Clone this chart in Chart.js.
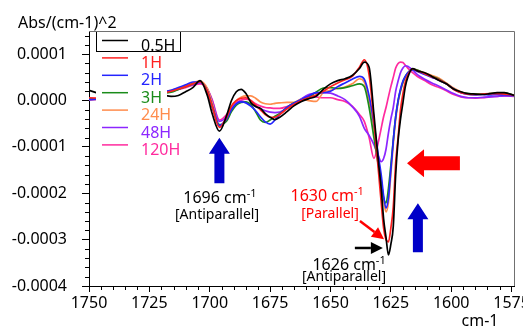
<!DOCTYPE html>
<html>
<head>
<meta charset="utf-8">
<script src="https://cdn.jsdelivr.net/npm/chart.js@4.4.1/dist/chart.umd.min.js"></script>
<style>
  html, body { margin: 0; padding: 0; background: #fff; }
  canvas { display: block; }
</style>
</head>
<body>
<canvas id="chart" width="523" height="327"></canvas>
<script>
// wavenumber grid (cm-1), shared by every spectrum
const WAVENUMBERS = [1750, 1745, 1740, 1735, 1730, 1725, 1720, 1716, 1713, 1710, 1707, 1704, 1701, 1699, 1696,
    1693, 1691, 1689, 1687, 1685, 1683, 1681, 1679, 1677, 1675, 1673, 1671,
    1668, 1665, 1662, 1659, 1656, 1653, 1650, 1647, 1644, 1641, 1638, 1636, 1634, 1632, 1630,
    1629, 1628, 1627, 1626, 1625, 1624, 1623, 1622, 1621, 1620, 1619, 1618,
    1616, 1614, 1611, 1608, 1605, 1602, 1599, 1596, 1593, 1590, 1587, 1584, 1581, 1578, 1574];

const SERIES_LABELS = ["0.5H", "1H", "2H", "3H", "24H", "48H", "120H"];
const SERIES_COLORS = ["#000000", "#ff2020", "#2424ff", "#1a8c1a", "#ff8c4c", "#8c26ff", "#ff2a9e"];

// second-derivative absorbance, Abs/(cm-1)^2
const ABS_05H = [0.22e-4, 0.14e-4, 0.08e-4, 0.05e-4, 0.05e-4, 0.06e-4, 0.12e-4, 0.09e-4, 0.11e-4, 0.19e-4, 0.28e-4, 0.43e-4, 0.11e-4, -0.28e-4, -0.66e-4,
    -0.32e-4, 0.0, 0.19e-4, 0.24e-4, 0.15e-4, -0.04e-4, -0.13e-4, -0.17e-4, -0.28e-4, -0.36e-4, -0.41e-4, -0.36e-4,
    -0.24e-4, -0.11e-4, -0.02e-4, 0.04e-4, 0.09e-4, 0.24e-4, 0.36e-4, 0.43e-4, 0.47e-4, 0.54e-4, 0.69e-4, 0.83e-4, 0.72e-4, -0.3e-4, -1.4e-4,
    -1.9e-4, -2.55e-4, -2.95e-4, -3.33e-4, -3.1e-4, -2.72e-4, -1.6e-4, -0.86e-4, -0.4e-4, -0.05e-4, 0.3e-4, 0.5e-4,
    0.69e-4, 0.64e-4, 0.6e-4, 0.52e-4, 0.43e-4, 0.36e-4, 0.25e-4, 0.19e-4, 0.15e-4, 0.14e-4, 0.13e-4, 0.15e-4, 0.17e-4, 0.17e-4, 0.11e-4];

const ABS_1H = [0.06e-4, 0.05e-4, 0.04e-4, 0.05e-4, 0.07e-4, 0.1e-4, 0.15e-4, 0.2e-4, 0.25e-4, 0.3e-4, 0.36e-4, 0.4e-4, 0.2e-4, -0.12e-4, -0.58e-4,
    -0.36e-4, -0.12e-4, 0.0, 0.05e-4, 0.06e-4, 0.0, -0.1e-4, -0.2e-4, -0.3e-4, -0.36e-4, -0.36e-4, -0.3e-4,
    -0.18e-4, -0.08e-4, 0.0, 0.06e-4, 0.12e-4, 0.2e-4, 0.3e-4, 0.38e-4, 0.45e-4, 0.52e-4, 0.72e-4, 0.88e-4, 0.55e-4, -0.45e-4, -1.6e-4,
    -2.2e-4, -2.75e-4, -3.0e-4, -3.05e-4, -2.75e-4, -2.3e-4, -1.35e-4, -0.8e-4, -0.2e-4, 0.15e-4, 0.4e-4, 0.55e-4,
    0.68e-4, 0.64e-4, 0.58e-4, 0.51e-4, 0.45e-4, 0.36e-4, 0.24e-4, 0.17e-4, 0.14e-4, 0.13e-4, 0.14e-4, 0.15e-4, 0.15e-4, 0.14e-4, 0.12e-4];

const ABS_2H = [0.02e-4, 0.04e-4, 0.06e-4, 0.08e-4, 0.1e-4, 0.13e-4, 0.18e-4, 0.22e-4, 0.28e-4, 0.34e-4, 0.4e-4, 0.4e-4, 0.2e-4, -0.12e-4, -0.54e-4,
    -0.4e-4, -0.2e-4, -0.07e-4, -0.03e-4, -0.05e-4, -0.12e-4, -0.22e-4, -0.35e-4, -0.46e-4, -0.51e-4, -0.42e-4, -0.3e-4,
    -0.15e-4, -0.05e-4, 0.03e-4, 0.1e-4, 0.17e-4, 0.17e-4, 0.2e-4, 0.3e-4, 0.38e-4, 0.46e-4, 0.52e-4, 0.46e-4, 0.1e-4, -0.5e-4, -1.25e-4,
    -1.6e-4, -2.05e-4, -2.32e-4, -2.1e-4, -1.5e-4, -0.86e-4, -0.35e-4, 0.0, 0.25e-4, 0.42e-4, 0.52e-4, 0.6e-4,
    0.66e-4, 0.63e-4, 0.56e-4, 0.5e-4, 0.44e-4, 0.36e-4, 0.25e-4, 0.17e-4, 0.13e-4, 0.12e-4, 0.13e-4, 0.12e-4, 0.13e-4, 0.12e-4, 0.11e-4];

const ABS_3H = [0.03e-4, 0.04e-4, 0.05e-4, 0.07e-4, 0.09e-4, 0.12e-4, 0.15e-4, 0.18e-4, 0.24e-4, 0.3e-4, 0.36e-4, 0.4e-4, 0.2e-4, -0.12e-4, -0.52e-4,
    -0.44e-4, -0.24e-4, -0.1e-4, -0.04e-4, -0.03e-4, -0.09e-4, -0.24e-4, -0.42e-4, -0.47e-4, -0.42e-4, -0.34e-4, -0.28e-4,
    -0.15e-4, -0.05e-4, 0.01e-4, 0.07e-4, 0.18e-4, 0.27e-4, 0.28e-4, 0.26e-4, 0.28e-4, 0.32e-4, 0.36e-4, 0.3e-4, -0.15e-4, -0.8e-4, -1.45e-4,
    -1.75e-4, -2.1e-4, -2.21e-4, -1.9e-4, -1.4e-4, -0.86e-4, -0.35e-4, 0.0, 0.22e-4, 0.4e-4, 0.52e-4, 0.6e-4,
    0.68e-4, 0.66e-4, 0.58e-4, 0.52e-4, 0.46e-4, 0.36e-4, 0.25e-4, 0.18e-4, 0.15e-4, 0.14e-4, 0.14e-4, 0.15e-4, 0.16e-4, 0.16e-4, 0.12e-4];

const ABS_24H = [0.02e-4, 0.03e-4, 0.05e-4, 0.08e-4, 0.11e-4, 0.14e-4, 0.18e-4, 0.22e-4, 0.27e-4, 0.32e-4, 0.38e-4, 0.42e-4, 0.26e-4, -0.05e-4, -0.56e-4,
    -0.36e-4, -0.12e-4, 0.0, 0.07e-4, 0.1e-4, 0.1e-4, 0.05e-4, -0.03e-4, -0.07e-4, -0.08e-4, -0.06e-4, -0.05e-4,
    -0.04e-4, -0.04e-4, 0.03e-4, 0.0, -0.02e-4, 0.17e-4, 0.22e-4, 0.26e-4, 0.29e-4, 0.36e-4, 0.47e-4, 0.4e-4, 0.0, -0.6e-4, -1.35e-4,
    -1.7e-4, -2.15e-4, -2.4e-4, -2.2e-4, -1.6e-4, -0.95e-4, -0.42e-4, -0.05e-4, 0.2e-4, 0.38e-4, 0.5e-4, 0.58e-4,
    0.66e-4, 0.65e-4, 0.6e-4, 0.54e-4, 0.48e-4, 0.38e-4, 0.27e-4, 0.19e-4, 0.14e-4, 0.13e-4, 0.14e-4, 0.14e-4, 0.14e-4, 0.13e-4, 0.11e-4];

const ABS_48H = [0.01e-4, 0.03e-4, 0.05e-4, 0.08e-4, 0.1e-4, 0.13e-4, 0.17e-4, 0.2e-4, 0.25e-4, 0.3e-4, 0.34e-4, 0.38e-4, 0.25e-4, 0.0, -0.45e-4,
    -0.35e-4, -0.18e-4, -0.06e-4, -0.02e-4, -0.04e-4, -0.08e-4, -0.13e-4, -0.18e-4, -0.22e-4, -0.25e-4, -0.26e-4, -0.25e-4,
    -0.17e-4, -0.07e-4, 0.04e-4, 0.13e-4, 0.16e-4, 0.17e-4, 0.16e-4, 0.1e-4, 0.02e-4, -0.13e-4, -0.34e-4, -0.6e-4, -0.75e-4, -0.95e-4, -1.22e-4,
    -1.32e-4, -1.25e-4, -1.05e-4, -0.7e-4, -0.4e-4, -0.15e-4, 0.2e-4, 0.42e-4, 0.6e-4, 0.7e-4, 0.75e-4, 0.74e-4,
    0.66e-4, 0.56e-4, 0.46e-4, 0.38e-4, 0.31e-4, 0.23e-4, 0.15e-4, 0.09e-4, 0.06e-4, 0.06e-4, 0.07e-4, 0.08e-4, 0.09e-4, 0.1e-4, 0.1e-4];

const ABS_120H = [0.04e-4, 0.05e-4, 0.07e-4, 0.09e-4, 0.11e-4, 0.13e-4, 0.17e-4, 0.2e-4, 0.24e-4, 0.28e-4, 0.33e-4, 0.36e-4, 0.25e-4, 0.02e-4, -0.42e-4,
    -0.3e-4, -0.14e-4, -0.04e-4, 0.01e-4, 0.03e-4, 0.0, -0.07e-4, -0.12e-4, -0.15e-4, -0.16e-4, -0.17e-4, -0.17e-4,
    -0.13e-4, -0.06e-4, 0.02e-4, 0.1e-4, 0.08e-4, 0.06e-4, 0.06e-4, 0.02e-4, -0.02e-4, -0.12e-4, -0.3e-4, -0.45e-4, -0.8e-4, -1.25e-4, -0.85e-4,
    -0.6e-4, -0.35e-4, -0.15e-4, 0.08e-4, 0.3e-4, 0.5e-4, 0.7e-4, 0.8e-4, 0.83e-4, 0.82e-4, 0.76e-4, 0.7e-4,
    0.6e-4, 0.52e-4, 0.43e-4, 0.34e-4, 0.28e-4, 0.21e-4, 0.13e-4, 0.08e-4, 0.06e-4, 0.05e-4, 0.06e-4, 0.08e-4, 0.09e-4, 0.1e-4, 0.09e-4];

const SERIES_VALUES = [ABS_05H, ABS_1H, ABS_2H, ABS_3H, ABS_24H, ABS_48H, ABS_120H];

// axis ranges and ticks
const X_MIN = 1574, X_MAX = 1750, X_STEP = 25, X_MINOR = 5;
const Y_MIN = -0.0004, Y_MAX = 0.00015, Y_STEP = 0.0001, Y_MINOR = 0.00002;

// annotations, placed in data units: [wavenumber, absorbance]
const UP_ARROWS = [
    { at: 1696.0, tip: -0.80e-4, base: -1.785e-4 },
    { at: 1613.8, tip: -2.215e-4, base: -3.27e-4 },
];
const LEFT_ARROW = { tip: [1618.3, -1.355e-4], tail: 1596.4 };
const LINE_ARROWS = [
    { from: [1637.8, -2.60e-4], to: [1627.8, -2.99e-4], color: "#ff0000" },
    { from: [1639.9, -3.18e-4], to: [1628.3, -3.18e-4], color: "#000000" },
];
const NOTES = [
    { at: [1695.8, -2.215e-4], text: "1696 cm", sup: "-1", color: "#000000", size: 16 },
    { at: [1697.0, -2.56e-4], text: "[Antiparallel]", color: "#000000", size: 14 },
    { at: [1651.4, -2.17e-4], text: "1630 cm", sup: "-1", color: "#ff0000", size: 16 },
    { at: [1650.2, -2.54e-4], text: "[Parallel]", color: "#ff0000", size: 14 },
    { at: [1642.3, -3.66e-4], text: "1626 cm", sup: "-1", color: "#000000", size: 16 },
    { at: [1644.4, -3.89e-4], text: "[Antiparallel]", color: "#000000", size: 14 },
];

const FONT = '"Noto Sans", "DejaVu Sans", sans-serif';

function toPoints(values) {
    return WAVENUMBERS.map((w, i) => ({ x: w, y: values[i] }));
}

function px(chart, w, v) {
    return [chart.scales.x.getPixelForValue(w), chart.scales.y.getPixelForValue(v)];
}

const frameAndTicks = {
    id: "frameAndTicks",
    afterDraw(chart) {
        const { ctx, scales: { x, y } } = chart;
        ctx.save();
        ctx.strokeStyle = "#000";
        ctx.lineWidth = 1;
        ctx.beginPath();
        for (let w = 1575; w <= X_MAX; w += X_MINOR) {
            if (w % X_STEP === 0) continue;
            const p = Math.round(x.getPixelForValue(w)) + 0.5;
            ctx.moveTo(p, y.bottom);
            ctx.lineTo(p, y.bottom + 4);
        }
        for (let k = -20; k * Y_MINOR <= Y_MAX + 1e-12; k++) {
            if (k % 5 === 0) continue;
            const p = Math.round(y.getPixelForValue(k * Y_MINOR)) + 0.5;
            ctx.moveTo(x.left - 4, p);
            ctx.lineTo(x.left, p);
        }
        ctx.stroke();

        ctx.strokeStyle = "#707070";
        ctx.beginPath();
        ctx.moveTo(x.left, y.top + 0.5);
        ctx.lineTo(x.right + 0.5, y.top + 0.5);
        ctx.lineTo(x.right + 0.5, y.bottom);
        ctx.stroke();

        ctx.fillStyle = "#000";
        ctx.font = "16px " + FONT;
        ctx.textAlign = "left";
        ctx.textBaseline = "alphabetic";
        ctx.fillText("Abs/(cm-1)^2", 18, 28);
        ctx.textAlign = "center";
        ctx.fillText("cm-1", 480, 326);
        ctx.restore();
    },
};

const legendBox = {
    id: "legendBox",
    afterDatasetsDraw(chart) {
        const ctx = chart.ctx;
        ctx.save();
        ctx.fillStyle = "#fff";
        ctx.fillRect(96, 32, 71, 126);
        ctx.font = "16px " + FONT;
        ctx.textAlign = "left";
        ctx.textBaseline = "alphabetic";
        SERIES_LABELS.forEach((label, i) => {
            const ly = 40.5 + i * 17.4;
            ctx.strokeStyle = SERIES_COLORS[i];
            ctx.lineWidth = 1.5;
            ctx.beginPath();
            ctx.moveTo(102, ly);
            ctx.lineTo(128, ly);
            ctx.stroke();
            ctx.fillStyle = SERIES_COLORS[i];
            ctx.fillText(label, 141, ly + 10);
        });
        ctx.strokeStyle = "#000";
        ctx.lineWidth = 1;
        ctx.strokeRect(96.5, 31.5, 84, 20);
        ctx.restore();
    },
};

const annotations = {
    id: "annotations",
    afterDraw(chart) {
        const ctx = chart.ctx;
        ctx.save();

        // block arrows pointing up
        ctx.fillStyle = "#0000c8";
        UP_ARROWS.forEach((a) => {
            const [cx, tipY] = px(chart, a.at, a.tip);
            const [, baseY] = px(chart, a.at, a.base);
            const headY = tipY + 16;
            ctx.beginPath();
            ctx.moveTo(cx, tipY);
            ctx.lineTo(cx + 10.5, headY);
            ctx.lineTo(cx + 5, headY);
            ctx.lineTo(cx + 5, baseY);
            ctx.lineTo(cx - 5, baseY);
            ctx.lineTo(cx - 5, headY);
            ctx.lineTo(cx - 10.5, headY);
            ctx.closePath();
            ctx.fill();
        });

        // red block arrow pointing left
        {
            const [tx, ty] = px(chart, LEFT_ARROW.tip[0], LEFT_ARROW.tip[1]);
            const [ex] = px(chart, LEFT_ARROW.tail, LEFT_ARROW.tip[1]);
            const hx = tx + 17;
            ctx.fillStyle = "#ff0000";
            ctx.beginPath();
            ctx.moveTo(tx, ty);
            ctx.lineTo(hx, ty - 14);
            ctx.lineTo(hx, ty - 7);
            ctx.lineTo(ex, ty - 7);
            ctx.lineTo(ex, ty + 7);
            ctx.lineTo(hx, ty + 7);
            ctx.lineTo(hx, ty + 14);
            ctx.closePath();
            ctx.fill();
        }

        // thin arrows
        LINE_ARROWS.forEach((a) => {
            const [x1, y1] = px(chart, a.from[0], a.from[1]);
            const [x2, y2] = px(chart, a.to[0], a.to[1]);
            const ang = Math.atan2(y2 - y1, x2 - x1);
            const hl = 12, hw = 6;
            const bx = x2 - hl * Math.cos(ang), by = y2 - hl * Math.sin(ang);
            ctx.strokeStyle = a.color;
            ctx.fillStyle = a.color;
            ctx.lineWidth = 2.5;
            ctx.beginPath();
            ctx.moveTo(x1, y1);
            ctx.lineTo(bx, by);
            ctx.stroke();
            ctx.beginPath();
            ctx.moveTo(x2, y2);
            ctx.lineTo(bx + hw * Math.sin(ang), by - hw * Math.cos(ang));
            ctx.lineTo(bx - hw * Math.sin(ang), by + hw * Math.cos(ang));
            ctx.closePath();
            ctx.fill();
        });

        // text notes, with superscript where needed
        ctx.textBaseline = "alphabetic";
        ctx.textAlign = "left";
        NOTES.forEach((n) => {
            const [cx, by] = px(chart, n.at[0], n.at[1]);
            ctx.font = n.size + "px " + FONT;
            const w1 = ctx.measureText(n.text).width;
            let w2 = 0;
            if (n.sup) {
                ctx.font = "11px " + FONT;
                w2 = ctx.measureText(n.sup).width;
            }
            const left = cx - (w1 + w2) / 2;
            ctx.fillStyle = n.color;
            ctx.font = n.size + "px " + FONT;
            ctx.fillText(n.text, left, by);
            if (n.sup) {
                ctx.font = "11px " + FONT;
                ctx.fillText(n.sup, left + w1, by - 6);
            }
        });
        ctx.restore();
    },
};

const datasets = SERIES_LABELS.map((label, i) => ({
    label,
    data: toPoints(SERIES_VALUES[i]),
    borderColor: SERIES_COLORS[i],
    backgroundColor: SERIES_COLORS[i],
    borderWidth: 1.7,
    pointRadius: 0,
    cubicInterpolationMode: "monotone",
    fill: false,
}));

Chart.defaults.font.family = FONT;
Chart.defaults.font.size = 16;
Chart.defaults.color = "#000";

new Chart(document.getElementById("chart"), {
    type: "line",
    data: { datasets },
    options: {
        responsive: false,
        animation: false,
        devicePixelRatio: 1,
        layout: { padding: { left: 0, right: 9, top: 31, bottom: 0 } },
        plugins: { legend: { display: false }, tooltip: { enabled: false }, title: { display: false } },
        scales: {
            x: {
                type: "linear",
                reverse: true,
                min: X_MIN,
                max: X_MAX,
                grid: { display: true, drawOnChartArea: false, drawTicks: true, tickLength: 6, tickColor: "#000" },
                border: { display: true, color: "#000", width: 1 },
                ticks: {
                    stepSize: X_STEP,
                    includeBounds: false,
                    autoSkip: false,
                    maxRotation: 0,
                    padding: 2,
                    color: "#000",
                    font: { size: 16 },
                    callback: (v) => String(v),
                },
                afterFit(scale) {
                    scale.height = 41;
                    scale.paddingLeft = 0;
                    scale.paddingRight = 0;
                },
            },
            y: {
                type: "linear",
                min: Y_MIN,
                max: Y_MAX,
                grid: { display: true, drawOnChartArea: false, drawTicks: true, tickLength: 7, tickColor: "#000" },
                border: { display: true, color: "#000", width: 1 },
                ticks: {
                    stepSize: Y_STEP,
                    includeBounds: false,
                    autoSkip: false,
                    padding: 15,
                    color: "#000",
                    font: { size: 16 },
                    callback: (v) => (Math.abs(v) < 1e-12 ? "0.0000" : v.toFixed(4)),
                },
                afterFit(scale) {
                    scale.width = 89;
                    scale.paddingTop = 0;
                    scale.paddingBottom = 0;
                },
            },
        },
    },
    plugins: [legendBox, frameAndTicks, annotations],
});
</script>
</body>
</html>
